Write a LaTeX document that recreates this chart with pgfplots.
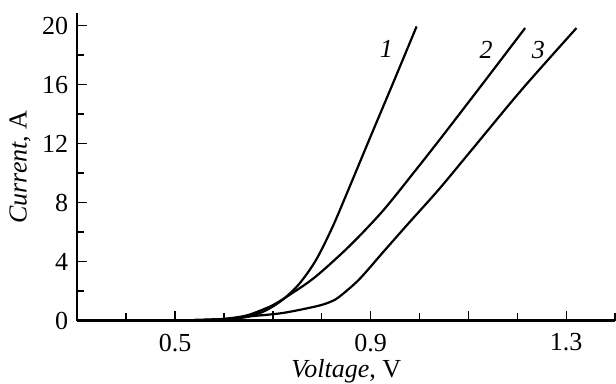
\documentclass[border=0pt]{standalone}
\usepackage{pgfplots}
\pgfplotsset{compat=1.18}
\usepackage{fontspec}
\setmainfont{Liberation Serif}
\begin{document}
\begin{tikzpicture}
\fontsize{13}{15}\selectfont
\begin{axis}[
  at={(0,0)}, anchor=south west,
  scale only axis, width=268.9pt, height=153.7pt,
  xmin=0.3, xmax=1.4, ymin=0, ymax=20.84,
  axis x line*=bottom, axis y line*=left,
  axis line style={line width=1.2pt},
  tick align=inside,
  xtick={0.3,0.5,0.7,0.9,1.1,1.3}, xticklabels={,0.5,,0.9,,1.3},
  minor xtick={0.4,0.6,0.8,1.0,1.2,1.4},
  ytick={0,4,8,12,16,20},
  minor ytick={2,6,10,14,18},
  major tick length=5pt, minor tick length=3.6pt,
  tick style={line width=0.7pt, black},
  /pgf/number format/assume math mode=true,
  xticklabel style={font=\fontsize{13}{15}\selectfont, yshift=-2pt},
  yticklabel style={font=\fontsize{13}{15}\selectfont, xshift=0pt},
  xlabel={\textit{Voltage}, V}, ylabel={\textit{Current}, A},
  label style={font=\fontsize{13}{15}\selectfont},
  xlabel style={yshift=5pt},
  ylabel style={yshift=-3pt},
  clip=false,
]
\addplot[black, line width=1.1pt, smooth] coordinates {
(0.3,0) (0.5,0.02) (0.58,0.08) (0.62,0.15) (0.652,0.29) (0.686,0.70) (0.72,1.42) (0.754,2.5) (0.788,4.1) (0.822,6.35) (0.856,9.0) (0.9,12.5) (0.947,16.2) (0.994,19.95)};
\addplot[black, line width=1.1pt, smooth] coordinates {
(0.3,0) (0.5,0.02) (0.58,0.08) (0.62,0.2) (0.652,0.41) (0.699,1.04) (0.74,1.88) (0.788,3.0) (0.856,5.04) (0.924,7.41) (0.992,10.2) (1.05,12.65) (1.13,16.1) (1.216,19.84)};
\addplot[black, line width=1.1pt, smooth] coordinates {
(0.3,0) (0.5,0.02) (0.58,0.08) (0.62,0.15) (0.652,0.29) (0.72,0.52) (0.788,0.97) (0.815,1.24) (0.835,1.6) (0.876,2.78) (0.924,4.59) (0.978,6.62) (1.039,8.88) (1.107,11.59) (1.21,15.7) (1.321,19.84)};
\node at (axis cs:0.932,18.4) {\textit{1}};
\node at (axis cs:1.136,18.37) {\textit{2}};
\node at (axis cs:1.243,18.37) {\textit{3}};
\end{axis}
\pgfresetboundingbox
\path (-38.65pt,-31.65pt) rectangle (269.35pt,160.35pt);
\end{tikzpicture}
\end{document}
